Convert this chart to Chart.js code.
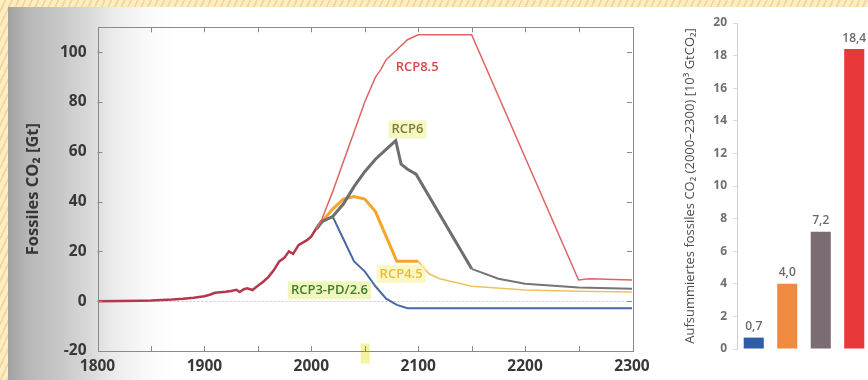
<!DOCTYPE html>
<html>
<head>
<meta charset="utf-8">
<script src="https://cdn.jsdelivr.net/npm/chart.js@4.4.1/dist/chart.umd.min.js"></script>
<style>
  html, body { margin: 0; padding: 0; width: 868px; height: 380px; overflow: hidden; }
  body {
    position: relative;
    background: repeating-linear-gradient(115deg, #fcedc4 0 4px, #f4d99e 4px 6px);
    font-family: "Open Sans", sans-serif;
  }
  #panel {
    position: absolute; left: 8px; top: 7px; width: 860px; height: 373px;
    background: linear-gradient(to right, #a2a2a2 0, #b8b8b8 22px, #c8c8c8 52px, #d9d9d9 82px, #ebebeb 105px, #fafafa 140px, #fff 170px);
  }
  #left  { position: absolute; left: 8px;   top: 7px; }
  #right { position: absolute; left: 655px; top: 7px; }
</style>
</head>
<body>
<div id="panel"></div>
<canvas id="left" width="650" height="373"></canvas>
<canvas id="right" width="216" height="373"></canvas>

<script>
/* ---- Données : émissions fossiles CO2 (Gt) ---- */
const histYears  = [1800, 1820, 1840, 1850, 1860, 1870, 1880, 1890, 1900, 1905, 1910, 1915, 1920, 1925, 1930, 1933, 1937, 1940, 1945, 1950, 1955, 1960, 1965, 1970, 1975, 1979, 1983, 1988, 1992, 1996, 2000, 2005, 2010];
const histValues = [0, 0.1, 0.2, 0.3, 0.5, 0.7, 1, 1.4, 2, 2.6, 3.4, 3.6, 3.8, 4.1, 4.6, 3.7, 4.8, 5.2, 4.5, 6.2, 7.8, 9.8, 12.5, 16, 17.5, 20, 19, 22.5, 23.5, 24.5, 26, 29.5, 32.5];

const rcp85Years  = [2005, 2010, 2020, 2030, 2040, 2050, 2060, 2065, 2070, 2080, 2090, 2100, 2150, 2250, 2260, 2300];
const rcp85Values = [29, 33, 44, 56, 68, 80, 90, 93, 97, 101, 105, 107, 107, 8.5, 9, 8.5];

const rcp6Years  = [2005, 2010, 2020, 2030, 2040, 2050, 2060, 2070, 2079, 2084, 2090, 2098, 2150, 2175, 2200, 2250, 2300];
const rcp6Values = [29, 32, 34, 39, 46, 52, 57, 61, 64.5, 55, 53, 51, 13, 9, 7, 5.5, 5];

const rcp45Years  = [2005, 2010, 2020, 2030, 2040, 2050, 2060, 2070, 2080, 2090, 2100, 2110, 2120, 2150, 2200, 2250, 2300];
const rcp45Values = [29, 32, 37, 41, 42, 41, 36, 26, 16, 16, 16, 11, 9, 6, 4.5, 4, 3.7];

const rcp26Years  = [2005, 2010, 2020, 2030, 2040, 2050, 2060, 2070, 2080, 2090, 2100, 2300];
const rcp26Values = [29, 32, 34, 25, 16, 12, 6, 1, -1.5, -2.8, -2.8, -2.8];

const yTicks = [-20, 0, 20, 40, 60, 80, 100];

/* ---- Données : cumul 2000–2300 (10^3 GtCO2) ---- */
const barLabels = ['RCP3-PD/2.6', 'RCP4.5', 'RCP6', 'RCP8.5'];
const barValues = [0.7, 4.0, 7.2, 18.4];
const barColors = ['#2f5ea6', '#f08a3e', '#7a6c72', '#e8383a'];

/* Étiquettes des scénarios, en coordonnées données */
const scenarioTags = [
  { text: 'RCP8.5',      year: 2099, val: 94,  color: '#d8484a', bg: null },
  { text: 'RCP6',        year: 2090, val: 69,  color: '#7d7d3a', bg: 'rgba(244,244,170,0.7)' },
  { text: 'RCP4.5',      year: 2084, val: 11,  color: '#e6bc3a', bg: 'rgba(248,244,170,0.7)' },
  { text: 'RCP3-PD/2.6', year: 2017, val: 4.4, color: '#3f7a36', bg: 'rgba(238,244,170,0.8)' },
];

Chart.defaults.font.family = '"Open Sans", sans-serif';

const toXY = (xs, ys) => xs.map((x, i) => ({ x, y: ys[i] }));

// Trait plus fin après 2100 pour RCP6 / RCP4.5
const thinAfter2100 = (wide, thin, colWide, colThin) => ({
  borderWidth: ctx => ctx.p0.parsed.x >= 2100 ? thin : wide,
  borderColor: ctx => ctx.p0.parsed.x >= 2100 ? colThin : colWide,
});

// Cadre + graduations intérieures + ligne zéro pointillée
const frame = {
  id: 'frame',
  beforeDatasetsDraw(chart) {
    const { ctx, chartArea: a, scales: { x, y } } = chart;
    ctx.save();
    ctx.strokeStyle = '#c8c8c8';
    ctx.setLineDash([2, 2]);
    ctx.lineWidth = 1;
    const y0 = Math.round(y.getPixelForValue(0)) + 0.5;
    ctx.beginPath(); ctx.moveTo(a.left, y0); ctx.lineTo(a.right, y0); ctx.stroke();
    ctx.setLineDash([]);
    // petit repère jaune vers 2050
    const xm = x.getPixelForValue(2050);
    ctx.fillStyle = 'rgba(240,240,120,0.7)';
    ctx.fillRect(xm - 4, y.getPixelForValue(-17), 9, 20);
    ctx.restore();
  },
  afterDatasetsDraw(chart) {
    const { ctx, chartArea: a, scales: { x, y } } = chart;
    ctx.save();
    ctx.strokeStyle = '#8a8a8a';
    ctx.lineWidth = 1;
    ctx.strokeRect(Math.round(a.left) + 0.5, Math.round(a.top) + 0.5,
                   Math.round(a.right - a.left), Math.round(a.bottom - a.top));
    ctx.beginPath();
    for (let yr = 1850; yr < 2300; yr += 50) {
      const px = Math.round(x.getPixelForValue(yr)) + 0.5;
      ctx.moveTo(px, a.bottom); ctx.lineTo(px, a.bottom - 5);
      ctx.moveTo(px, a.top);    ctx.lineTo(px, a.top + 5);
    }
    yTicks.slice(1).forEach(v => {
      const py = Math.round(y.getPixelForValue(v)) + 0.5;
      ctx.moveTo(a.left, py);  ctx.lineTo(a.left + 5, py);
      ctx.moveTo(a.right, py); ctx.lineTo(a.right - 5, py);
    });
    ctx.stroke();

    // étiquettes RCP
    ctx.font = '600 13px "Open Sans"';
    ctx.textAlign = 'center';
    ctx.textBaseline = 'middle';
    scenarioTags.forEach(t => {
      const px = x.getPixelForValue(t.year);
      const py = y.getPixelForValue(t.val);
      const w = ctx.measureText(t.text).width;
      if (t.bg) {
        ctx.fillStyle = t.bg;
        ctx.fillRect(px - w / 2 - 3, py - 9, w + 6, 18);
      }
      ctx.fillStyle = t.color;
      ctx.fillText(t.text, px, py);
    });
    ctx.restore();
  },
};

// Valeurs au-dessus des barres (virgule décimale)
const barValueLabels = {
  id: 'barValueLabels',
  afterDatasetsDraw(chart) {
    const { ctx } = chart;
    ctx.save();
    ctx.font = '600 12px "Open Sans"';
    ctx.fillStyle = '#6a6a6a';
    ctx.textAlign = 'center';
    ctx.textBaseline = 'middle';
    chart.getDatasetMeta(0).data.forEach((bar, i) => {
      ctx.fillText(barValues[i].toFixed(1).replace('.', ','), bar.x, bar.y - 11);
    });
    ctx.restore();
  },
};

function drawCharts() {
  new Chart(document.getElementById('left'), {
    type: 'line',
    data: {
      datasets: [
        { data: toXY(rcp85Years, rcp85Values), borderColor: '#e06262', borderWidth: 1.5 },
        { data: toXY(rcp6Years, rcp6Values), borderColor: '#6e6e6e', borderWidth: 3,
          segment: thinAfter2100(3, 2, '#6e6e6e', '#757575') },
        { data: toXY(rcp45Years, rcp45Values), borderColor: '#f2a62c', borderWidth: 3,
          segment: thinAfter2100(3, 1.6, '#f2a62c', '#f0c060') },
        { data: toXY(rcp26Years, rcp26Values), borderColor: '#4a68a6', borderWidth: 2 },
        { data: toXY(histYears, histValues), borderColor: '#b3384c', borderWidth: 2.5 },
      ],
    },
    options: {
      responsive: false,
      animation:  false,
      layout: { padding: { top: 17, right: 26, left: 0, bottom: 0 } },
      elements: { point: { radius: 0 }, line: { tension: 0 } },
      plugins: { legend: { display: false }, tooltip: { enabled: false } },
      scales: {
        x: {
          type: 'linear', min: 1800, max: 2300,
          grid: { display: false, drawTicks: false },
          border: { display: false },
          ticks: { stepSize: 100, color: '#383838', font: { size: 15.5, weight: 'bold' },
                   padding: 6, maxRotation: 0, callback: v => String(v) },
          afterFit: s => { s.height = 29; },
        },
        y: {
          min: -20, max: 110,
          afterBuildTicks: s => { s.ticks = yTicks.map(v => ({ value: v })); },
          grid: { display: false, drawTicks: false },
          border: { display: false },
          ticks: { color: '#383838', font: { size: 15.5, weight: 'bold' }, padding: 11 },
          title: { display: true, text: 'Fossiles CO₂ [Gt]', color: '#363636',
                   font: { size: 16.5, weight: 'bold' }, padding: { top: 15, bottom: 0 } },
          afterFit: s => { s.width = 89.5; },
        },
      },
    },
    plugins: [frame],
  });

  new Chart(document.getElementById('right'), {
    type: 'bar',
    data: {
      labels: barLabels,
      datasets: [{
        data: barValues,
        backgroundColor: barColors,
        barPercentage: 0.6,
        categoryPercentage: 1,
      }],
    },
    options: {
      responsive: false,
      animation:  false,
      layout: { padding: { top: 16, bottom: 31, right: 0, left: 0 } },
      plugins: { legend: { display: false }, tooltip: { enabled: false } },
      scales: {
        x: { display: false },
        y: {
          min: 0, max: 20,
          ticks: { stepSize: 2, color: '#707070', font: { size: 12, weight: 'bold' }, padding: 6 },
          grid: { drawOnChartArea: false, tickLength: 4, color: '#dddddd' },
          border: { color: '#cfcfcf' },
          title: { display: true, text: 'Aufsummiertes fossiles CO₂ (2000–2300) [10³ GtCO₂]',
                   color: '#4c4c4c', font: { size: 13 }, padding: { top: 27, bottom: 0 } },
          afterFit: s => { s.width = 82; },
        },
      },
    },
    plugins: [barValueLabels],
  });
}

// S'assurer que la police est prête avant de dessiner sur le canvas
Promise.all([
  document.fonts.load('bold 15px "Open Sans"'),
  document.fonts.load('600 13px "Open Sans"'),
  document.fonts.load('400 12px "Open Sans"'),
]).then(drawCharts, drawCharts);
</script>
</body>
</html>
